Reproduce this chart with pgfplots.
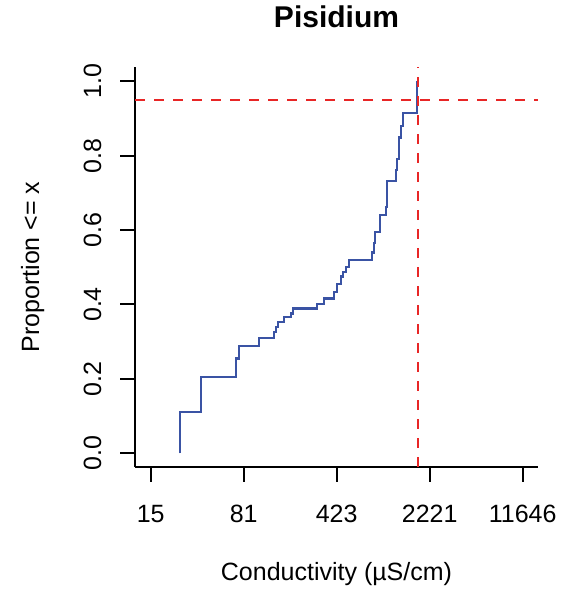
\documentclass[border=0pt]{standalone}
\usepackage{fontspec}
\setmainfont{Liberation Sans}
\usepackage{pgfplots}
\pgfplotsset{compat=1.18}

\definecolor{ecdfblue}{RGB}{58,83,164}
\definecolor{cutred}{RGB}{232,38,38}

\begin{document}
\begin{tikzpicture}
% page = 580 x 591 px
\path (0bp,0bp) rectangle (580bp,591bp);
\begin{axis}[
  at={(135bp,124bp)}, anchor=south west,
  scale only axis, width=403bp, height=400bp,
  xmode=log,
  xmin=11.63, xmax=15300,
  ymin=-0.0368, ymax=1.0384,
  axis x line*=bottom, axis y line*=left,
  axis line style={-, line width=2bp, black},
  tick align=outside, major tick length=15bp,
  tick style={line width=2bp, black},
  xminorticks=false, yminorticks=false,
  xtick={15.39,80.7,423.3,2220,11646},
  xticklabels={15,81,423,2221,11646},
  ytick={0,0.2,0.4,0.6,0.8,1.0},
  yticklabels={0.0,0.2,0.4,0.6,0.8,1.0},
  font=\fontsize{25bp}{30bp}\selectfont,
  xticklabel style={anchor=north, inner sep=0pt, yshift=-23bp},
  yticklabel style={xshift=-19bp, rotate=90, anchor=base, inner sep=0pt},
  title={\bfseries Pisidium},
  title style={font=\fontsize{30bp}{36bp}\selectfont\bfseries,
    at={(axis description cs:0.5,1.0)}, anchor=base, inner sep=0pt, yshift=33.7bp},
  xlabel={Conductivity (µS/cm)},
  xlabel style={at={(axis description cs:0.5,0)}, anchor=base, inner sep=0pt, yshift=-113bp},
  ylabel={Proportion <= x},
  every axis y label/.style={at={(axis description cs:0,0.5)}, rotate=90,
    anchor=base, inner sep=0pt, xshift=0bp, yshift=96bp},
]
\addplot[const plot, ecdfblue, line width=2.2bp] coordinates {
  (25.9,0) (25.9,0.112) (37.7,0.206) (70.0,0.255) (74.7,0.289)
  (106.7,0.309) (138.5,0.327) (143.6,0.340) (149.6,0.354) (165.5,0.366)
  (186.6,0.376) (193.3,0.389) (299.8,0.401) (337.7,0.416) (405.8,0.434)
  (423.2,0.455) (454.5,0.475) (476.0,0.488) (499.5,0.500) (527.2,0.520)
  (799,0.540) (827,0.566) (842,0.594) (916,0.640) (1013,0.663)
  (1032,0.733) (1212,0.762) (1246,0.791) (1278,0.849) (1332,0.880)
  (1372,0.914) (1780,1.0)
};
\addplot[cutred, line width=2bp, dash pattern=on 9.5bp off 9.5bp]
  coordinates {(1792,-0.0368) (1792,1.0384)};
\addplot[cutred, line width=2bp, dash pattern=on 9.5bp off 9.5bp]
  coordinates {(11.63,0.95) (15300,0.95)};
\end{axis}
\end{tikzpicture}
\end{document}
